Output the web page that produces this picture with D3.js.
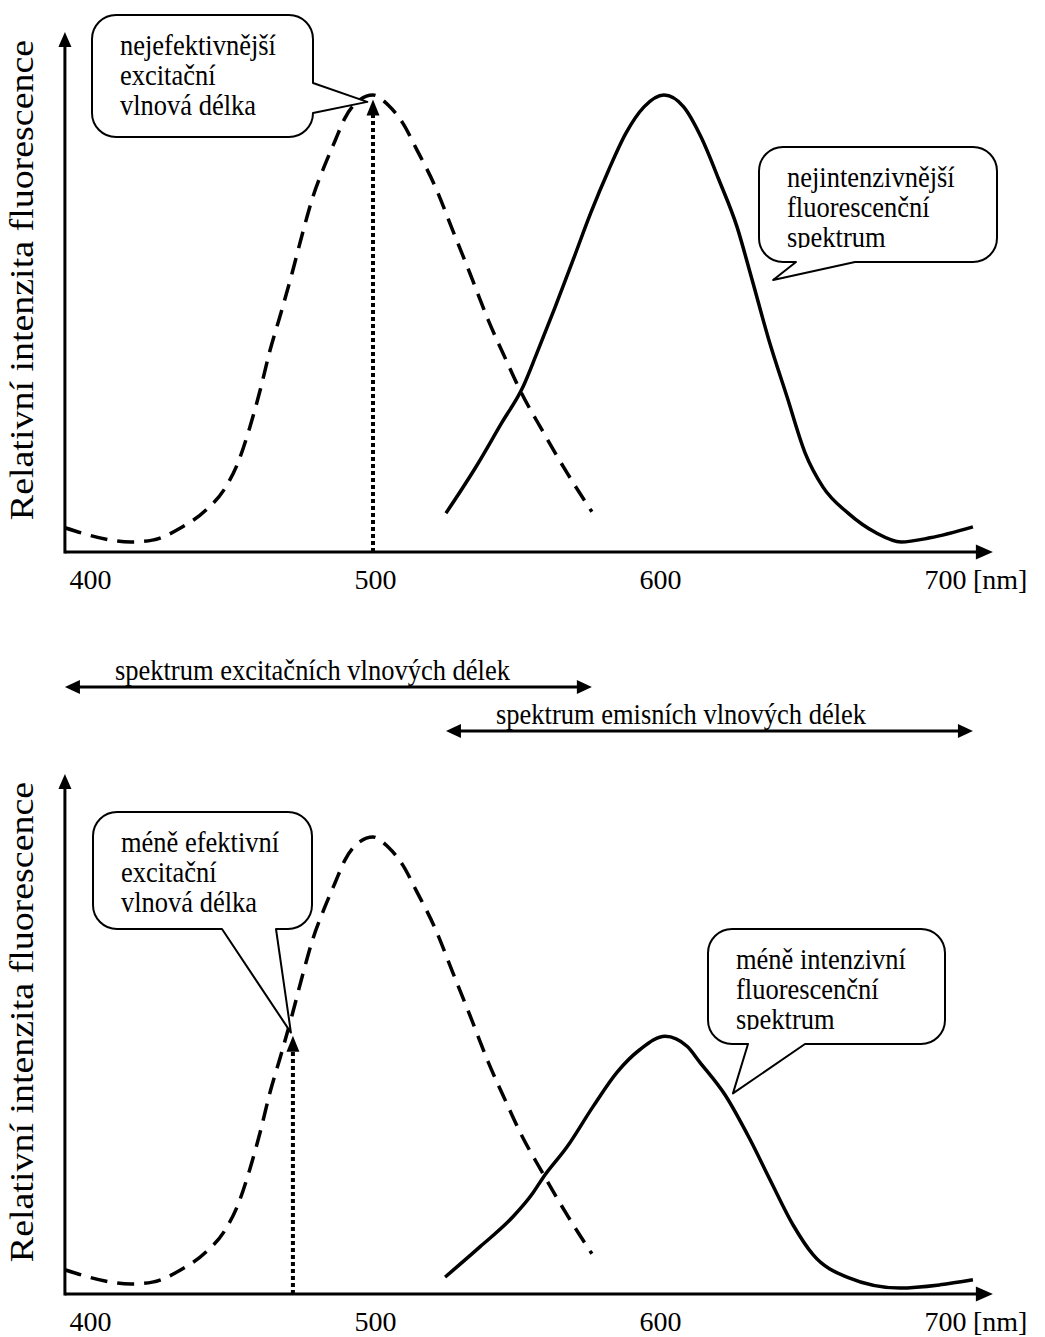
<!DOCTYPE html>
<html lang="cs">
<head>
<meta charset="UTF-8">
<title>Excitační a emisní spektrum</title>
<script src="https://d3js.org/d3.v7.min.js"></script>
<style>
  body { margin: 0; background: #fff; }
  svg { display: block; }
</style>
</head>
<body>
<div id="chart"></div>
<script>
// excitation spectrum (dashed), same in both panels
const excitationNm = [391.9, 415.1, 422.6, 432.6, 441.4, 447.7, 452.6, 456.5, 460.4, 463.9, 467.7, 471.6, 475.3, 478.9, 482.8, 486.7, 490.2, 495.4, 500, 505.3, 510.4, 515.4, 521.8, 527.9, 534, 540.4, 546.7, 551.6, 559.3, 568.1, 576.8];
const excitationRel = [0.053, 0.022, 0.026, 0.053, 0.092, 0.136, 0.195, 0.267, 0.354, 0.442, 0.523, 0.61, 0.698, 0.777, 0.842, 0.9, 0.95, 0.99, 1.0, 0.978, 0.939, 0.88, 0.8, 0.705, 0.61, 0.508, 0.42, 0.354, 0.267, 0.173, 0.088];

// emission spectrum (solid), top panel
const emissionNmTop = [525.6, 536.1, 545.1, 552.6, 557.5, 563.9, 570.2, 576.4, 582.7, 588.8, 595.1, 602.1, 609, 615.1, 621.4, 627.7, 632.6, 638.9, 645.3, 651.6, 657.9, 666.7, 676.5, 685.3, 695.4, 710.5];
const emissionRelTop = [0.085, 0.186, 0.282, 0.361, 0.435, 0.536, 0.639, 0.742, 0.836, 0.917, 0.974, 1.0, 0.974, 0.908, 0.814, 0.712, 0.605, 0.464, 0.339, 0.217, 0.142, 0.085, 0.042, 0.022, 0.031, 0.055];

// emission spectrum (solid), bottom panel
const emissionNmBottom = [525.3, 537.5, 549.1, 556.1, 559.6, 568.1, 577.2, 585.6, 593.7, 602.5, 610.2, 614.7, 623.5, 632.3, 639.3, 647.4, 654.4, 666.3, 684.9, 698.9, 710.5];
const emissionRelBottom = [0.037, 0.103, 0.169, 0.221, 0.254, 0.322, 0.41, 0.485, 0.535, 0.564, 0.542, 0.507, 0.436, 0.338, 0.25, 0.151, 0.086, 0.037, 0.013, 0.02, 0.031];

// excitation wavelength used in each panel (dotted line + arrow)
const markerNm = [500, 471.9];
const markerRel = [0.99, 0.565];

const tickValues = [400, 500, 600, 700];
const unitLabel = "[nm]";
const yLabel = "Relativní intenzita fluorescence";

const calloutTexts = [
  ["nejefektivnější", "excitační", "vlnová délka"],
  ["nejintenzivnější", "fluorescenční", "spektrum"],
  ["méně efektivní", "excitační", "vlnová délka"],
  ["méně intenzivní", "fluorescenční", "spektrum"]
];
// where each callout tail points (wavelength, relative intensity)
const calloutTipNm = [498, 640.4, 471.2, 626.3];
const calloutTipRel = [0.985, 0.595, 0.572, 0.439];

const rangeLabels = ["spektrum excitačních vlnových délek", "spektrum emisních vlnových délek"];

const width = 1045, height = 1337;
const STRETCH = 1.15;
const SERIF = "'Liberation Serif', 'Times New Roman', 'DejaVu Serif', serif";
const panelOffset = [0, 742];

const svg = d3.select("#chart").append("svg")
  .attr("width", width)
  .attr("height", height)
  .attr("font-family", SERIF);

const x = d3.scaleLinear().domain([400, 700]).range([88, 943]);
const y = d3.scaleLinear().domain([0, 1]).range([552, 95]);
const axisNm = [391.9, 717.5];
const axisTop = 1.138;

const line = d3.line()
  .x(d => x(d[0]))
  .y(d => y(d[1]))
  .curve(d3.curveMonotoneX);

const excitation = d3.zip(excitationNm, excitationRel);
const emission = [d3.zip(emissionNmTop, emissionRelTop), d3.zip(emissionNmBottom, emissionRelBottom)];

function stretchedText(sel, px, py, str, size, anchor) {
  return sel.append("text")
    .attr("transform", `translate(${px},${py}) scale(1,${STRETCH})`)
    .attr("font-size", size)
    .attr("text-anchor", anchor || "start")
    .attr("fill", "#000")
    .text(str);
}

function arrowHead(sel, tx, ty, dir, len, wid) {
  // dir: "up", "right", "left"
  let pts;
  if (dir === "up") pts = [[tx, ty], [tx - wid / 2, ty + len], [tx + wid / 2, ty + len]];
  else if (dir === "right") pts = [[tx, ty], [tx - len, ty - wid / 2], [tx - len, ty + wid / 2]];
  else pts = [[tx, ty], [tx + len, ty - wid / 2], [tx + len, ty + wid / 2]];
  sel.append("path").attr("d", "M" + pts.join("L") + "Z").attr("fill", "#000");
}

// rounded box with a wedge tail, like a Word callout
function callout(sel, id, box, tail, lines) {
  const r = 24;
  const { bx, by, bw, bh } = box;
  const tip = [x(tail.nm), y(tail.rel)];
  let d = `M${bx + r},${by} H${bx + bw - r} A${r},${r} 0 0 1 ${bx + bw},${by + r}`;
  if (tail.side === "right") {
    d += ` V${by + tail.a1} L${tip[0]},${tip[1]} L${bx + bw},${by + tail.a2}`;
    d += ` V${by + bh - r} A${r},${r} 0 0 1 ${bx + bw - r},${by + bh} H${bx + r}`;
  } else {
    d += ` V${by + bh - r} A${r},${r} 0 0 1 ${bx + bw - r},${by + bh}`;
    d += ` H${bx + tail.a2} L${tip[0]},${tip[1]} L${bx + tail.a1},${by + bh} H${bx + r}`;
  }
  d += ` A${r},${r} 0 0 1 ${bx},${by + bh - r} V${by + r} A${r},${r} 0 0 1 ${bx + r},${by} Z`;
  sel.append("path")
    .attr("d", d)
    .attr("fill", "#fff")
    .attr("stroke", "#000")
    .attr("stroke-width", 2)
    .attr("stroke-linejoin", "round");

  sel.append("clipPath").attr("id", id)
    .append("rect").attr("x", bx).attr("y", by).attr("width", bw).attr("height", 101);
  const tg = sel.append("g").attr("clip-path", `url(#${id})`);
  lines.forEach((t, i) => stretchedText(tg, bx + 28, by + 40 + i * 30, t, 26.5));
}

const calloutBoxes = [
  { bx: 92, by: 15, bw: 221, bh: 122 },
  { bx: 759, by: 147, bw: 238, bh: 115 },
  { bx: 93, by: 70, bw: 219, bh: 117 },
  { bx: 708, by: 187, bw: 237, bh: 115 }
];
const calloutTails = [
  { side: "right", a1: 68, a2: 98 },
  { side: "bottom", a1: 37, a2: 96 },
  { side: "bottom", a1: 129, a2: 183 },
  { side: "bottom", a1: 40, a2: 97 }
];

panelOffset.forEach((off, p) => {
  const g = svg.append("g").attr("transform", `translate(0,${off})`);

  // axes with arrows
  g.append("line")
    .attr("x1", x(axisNm[0])).attr("x2", x(axisNm[1]) - 14)
    .attr("y1", y(0)).attr("y2", y(0))
    .attr("stroke", "#000").attr("stroke-width", 3);
  arrowHead(g, x(axisNm[1]), y(0), "right", 17, 15);
  g.append("line")
    .attr("x1", x(axisNm[0])).attr("x2", x(axisNm[0]))
    .attr("y1", y(0) + 1.5).attr("y2", y(axisTop) + 12)
    .attr("stroke", "#000").attr("stroke-width", 3);
  arrowHead(g, x(axisNm[0]), y(axisTop), "up", 15, 13);

  // tick labels
  const ax = g.append("g")
    .attr("transform", `translate(0,${y(0)})`)
    .call(d3.axisBottom(x).tickValues(tickValues).tickSize(0).tickFormat(d3.format("d")));
  ax.select(".domain").remove();
  ax.attr("font-family", SERIF).attr("font-size", 28);
  ax.selectAll("text")
    .attr("y", 37).attr("dy", 0).attr("dx", 2)
    .attr("fill", "#000");
  g.append("text")
    .attr("x", x(700) + 30).attr("y", y(0) + 37)
    .attr("font-size", 28).attr("fill", "#000")
    .text(unitLabel);

  // y label
  g.append("text")
    .attr("transform", `translate(33,280) scale(1,${STRETCH}) rotate(-90)`)
    .attr("text-anchor", "middle")
    .attr("font-size", 33)
    .attr("fill", "#000")
    .text(yLabel);

  // excitation marker (dotted) with arrow
  g.append("line")
    .attr("x1", x(markerNm[p])).attr("x2", x(markerNm[p]))
    .attr("y1", y(0)).attr("y2", y(markerRel[p]) + 14)
    .attr("stroke", "#000").attr("stroke-width", 4)
    .attr("stroke-dasharray", "4,3");

  // curves
  g.append("path")
    .datum(excitation)
    .attr("d", line)
    .attr("fill", "none").attr("stroke", "#000")
    .attr("stroke-width", 3.5)
    .attr("stroke-dasharray", "17,10");
  g.append("path")
    .datum(emission[p])
    .attr("d", line)
    .attr("fill", "none").attr("stroke", "#000")
    .attr("stroke-width", 3.5);

  // callouts
  [0, 1].forEach(k => {
    const c = p * 2 + k;
    callout(g, "clip" + c, calloutBoxes[c],
      Object.assign({ nm: calloutTipNm[c], rel: calloutTipRel[c] }, calloutTails[c]),
      calloutTexts[c]);
  });

  arrowHead(g, x(markerNm[p]), y(markerRel[p]), "up", 16, 13);
});

// wavelength range arrows between the panels
const ranges = [d3.extent(excitationNm), d3.extent(emissionNmTop)];
const rangeY = [687, 731];
ranges.forEach((r, i) => {
  const x0 = x(r[0]), x1 = x(r[1]);
  svg.append("line")
    .attr("x1", x0 + 12).attr("x2", x1 - 12)
    .attr("y1", rangeY[i]).attr("y2", rangeY[i])
    .attr("stroke", "#000").attr("stroke-width", 3);
  arrowHead(svg, x0, rangeY[i], "left", 15, 14);
  arrowHead(svg, x1, rangeY[i], "right", 15, 14);
  stretchedText(svg, x0 + 50, rangeY[i] - 7, rangeLabels[i], 26.5);
});
</script>
</body>
</html>
